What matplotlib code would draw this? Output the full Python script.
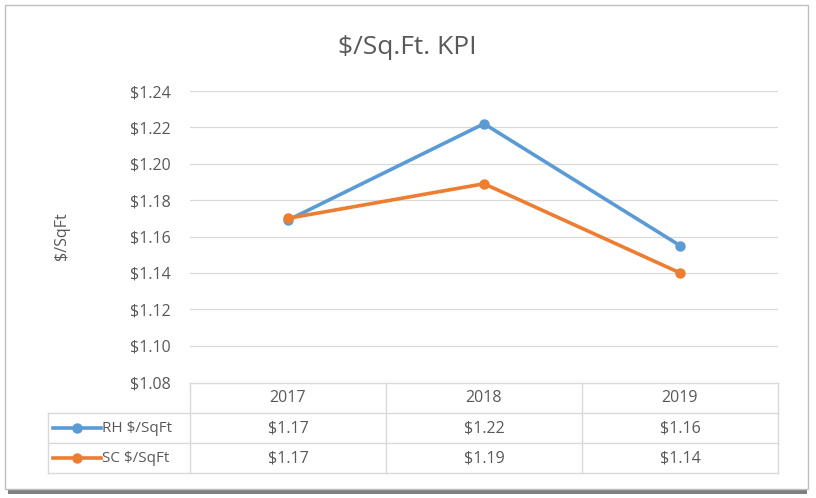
import matplotlib.pyplot as plt
from matplotlib.patches import Rectangle
from matplotlib.lines import Line2D

years = ['2017', '2018', '2019']
rh = [1.169, 1.222, 1.155]
sc = [1.170, 1.189, 1.140]
series_names = ['RH $/SqFt', 'SC $/SqFt']
yticks = [1.08, 1.10, 1.12, 1.14, 1.16, 1.18, 1.20, 1.22, 1.24]

blue = '#5B9BD5'
orange = '#ED7D31'
txt = '#595959'
grid = '#D9D9D9'

W, H = 816, 498
fig = plt.figure(figsize=(W / 100, H / 100), dpi=100)
plt.rcParams['font.family'] = ['Open Sans', 'DejaVu Sans']

def fx(px):
    return px / W

def fy(py):
    return 1 - py / H

# frame with shadow
fig.patches.append(Rectangle((fx(8), fy(494)), fx(807) - fx(8), fy(8) - fy(494),
                             transform=fig.transFigure, facecolor='#7f7f7f', edgecolor='none', zorder=0))
fig.patches.append(Rectangle((fx(5), fy(489)), fx(808) - fx(5), fy(5) - fy(489),
                             transform=fig.transFigure, facecolor='white', edgecolor='#bfbfbf', lw=1, zorder=1))

left, right, top, bottom = 190, 778, 91, 382
ax = fig.add_axes([fx(left), fy(bottom), fx(right) - fx(left), fy(top) - fy(bottom)])
ax.set_zorder(3)
ax.patch.set_alpha(0)

x = range(len(years))
ax.plot(x, rh, color=blue, lw=2.6, marker='o', ms=6.5, zorder=4)
ax.plot(x, sc, color=orange, lw=2.6, marker='o', ms=6.5, zorder=5)
ax.set_xlim(-0.5, len(years) - 0.5)
ax.set_ylim(1.08, 1.24)
ax.set_yticks(yticks)
ax.set_yticklabels(['$%.2f' % v for v in yticks], color=txt, fontsize=11.5)
ax.set_xticks([])
ax.tick_params(axis='y', length=0, pad=14)
ax.grid(axis='y', color=grid, lw=0.9)
ax.set_axisbelow(True)
for s in ax.spines.values():
    s.set_visible(False)
ax.set_ylabel('$/SqFt', color=txt, fontsize=11.5, labelpad=43)

fig.text(fx(407), fy(48), '$/Sq.Ft. KPI', ha='center', va='center', color=txt, fontsize=19)

# data table below the plot
row_tops = [383, 413, 443, 473]
col_w = (right - left) / len(years)
cols = [left + i * col_w for i in range(len(years) + 1)]
key_left = 48
lc = '#D9D9D9'
for i, y in enumerate(row_tops):
    x0 = left if i == 0 else key_left
    fig.add_artist(Line2D([fx(x0), fx(right)], [fy(y), fy(y)], color=lc, lw=1, transform=fig.transFigure))
for c in cols:
    fig.add_artist(Line2D([fx(c), fx(c)], [fy(row_tops[0]), fy(row_tops[-1])], color=lc, lw=1, transform=fig.transFigure))
fig.add_artist(Line2D([fx(key_left), fx(key_left)], [fy(row_tops[1]), fy(row_tops[-1])], color=lc, lw=1, transform=fig.transFigure))

for i, yr in enumerate(years):
    cx = (cols[i] + cols[i + 1]) / 2
    fig.text(fx(cx), fy((row_tops[0] + row_tops[1]) / 2), yr, ha='center', va='center', color=txt, fontsize=11.5)
    for r, vals in enumerate([rh, sc]):
        cy = (row_tops[r + 1] + row_tops[r + 2]) / 2
        fig.text(fx(cx), fy(cy), '$%.2f' % vals[i], ha='center', va='center', color=txt, fontsize=11.5)

for r, (name, col) in enumerate(zip(series_names, [blue, orange])):
    cy = (row_tops[r + 1] + row_tops[r + 2]) / 2
    fig.add_artist(Line2D([fx(53), fx(101)], [fy(cy), fy(cy)], color=col, lw=2.6,
                          transform=fig.transFigure))
    fig.add_artist(Line2D([fx(77)], [fy(cy)], color=col, marker='o', ms=6.5,
                          transform=fig.transFigure))
    fig.text(fx(102), fy(cy), name, ha='left', va='center', color=txt, fontsize=11)

fig.savefig('out.png', dpi=100)
